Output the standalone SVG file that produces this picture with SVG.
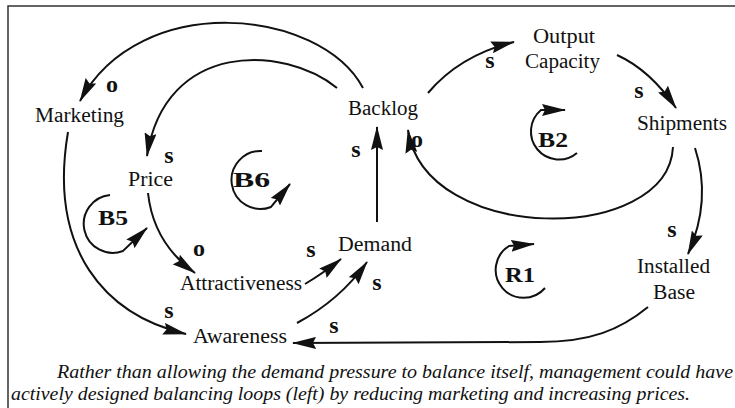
<svg xmlns="http://www.w3.org/2000/svg" width="735" height="408" viewBox="0 0 735 408">
<style>
.lbl{font-family:"Liberation Serif","Times New Roman",Times,serif;font-size:20px;fill:#111}
.pol{font-family:"Liberation Serif","Times New Roman",Times,serif;font-size:24px;font-weight:bold;fill:#111;text-anchor:middle}
.loop{font-family:"Liberation Serif","Times New Roman",Times,serif;font-size:22px;font-weight:bold;fill:#111}
.cap{font-family:"Liberation Serif","Times New Roman",Times,serif;font-size:18px;font-style:italic;fill:#111}
.c{fill:none;stroke:#111;stroke-width:2;marker-end:url(#ah)}
.frame{fill:none;stroke:#333;stroke-width:1.5}
</style>
<defs>
<marker id="ah" viewBox="0 0 24 12" refX="23" refY="6" markerWidth="24" markerHeight="12" markerUnits="userSpaceOnUse" orient="auto">
<path d="M0,0 L24,6 L0,12 L3,6 z" fill="#111"/>
</marker>
</defs>
<rect width="735" height="408" fill="#fff"/>
<path class="frame" d="M8,408 L8,6 L735,6"/>

<g id="connectors">
<path class="c" d="M363,88 C320,8 140,-10 80,101"/>
<path class="c" d="M337,88 C285,45 165,40 147,156"/>
<path class="c" d="M68,132 C48,250 105,315 186,334"/>
<path class="c" d="M148,193 C152,230 170,255 195,273"/>
<path class="c" d="M305,284 Q322,274 341,259"/>
<path class="c" d="M297,323 Q340,300 367,262"/>
<path class="c" d="M377,222 L377,127"/>
<path class="c" d="M673,147 C668,245 425,245 408,130"/>
<path class="c" d="M428,93 Q460,55 514,42"/>
<path class="c" d="M617,55 Q650,70 676,108"/>
<path class="c" d="M695,148 Q712,200 688,254"/>
<path class="c" d="M648,307 C620,330 590,342 540,342 L293,343"/>
</g>

<g id="loop-B6">
<path class="c" d="M262,151 A29 29 0 1 0 271,207 L290,184"/>
<text class="loop" x="233" y="187" textLength="37" lengthAdjust="spacingAndGlyphs">B6</text>
</g>
<g id="loop-B5">
<path class="c" d="M110,195 A29 29 0 1 0 123,251 L147,228"/>
<text class="loop" x="98" y="225" textLength="30" lengthAdjust="spacingAndGlyphs">B5</text>
</g>
<g id="loop-B2">
<path class="c" d="M577,153 A28 28 0 1 1 541,110 L565,110"/>
<text class="loop" x="538" y="147" textLength="30" lengthAdjust="spacingAndGlyphs">B2</text>
</g>
<g id="loop-R1">
<path class="c" d="M545,288 A28 28 0 1 1 509,246 L534,244"/>
<text class="loop" x="505" y="282" textLength="30" lengthAdjust="spacingAndGlyphs">R1</text>
</g>

<g id="node-marketing"><text class="lbl" x="35" y="122" textLength="89" lengthAdjust="spacingAndGlyphs">Marketing</text></g>
<g id="node-backlog"><text class="lbl" x="348" y="115" textLength="70" lengthAdjust="spacingAndGlyphs">Backlog</text></g>
<g id="node-output-capacity">
<text class="lbl" x="533" y="43" textLength="62" lengthAdjust="spacingAndGlyphs">Output</text>
<text class="lbl" x="525" y="68" textLength="75" lengthAdjust="spacingAndGlyphs">Capacity</text>
</g>
<g id="node-shipments"><text class="lbl" x="637" y="130" textLength="90" lengthAdjust="spacingAndGlyphs">Shipments</text></g>
<g id="node-price"><text class="lbl" x="128" y="186" textLength="45" lengthAdjust="spacingAndGlyphs">Price</text></g>
<g id="node-demand"><text class="lbl" x="338" y="251" textLength="74" lengthAdjust="spacingAndGlyphs">Demand</text></g>
<g id="node-attractiveness"><text class="lbl" x="180" y="290" textLength="122" lengthAdjust="spacingAndGlyphs">Attractiveness</text></g>
<g id="node-awareness"><text class="lbl" x="193" y="343" textLength="94" lengthAdjust="spacingAndGlyphs">Awareness</text></g>
<g id="node-installed-base">
<text class="lbl" x="637" y="273" textLength="73" lengthAdjust="spacingAndGlyphs">Installed</text>
<text class="lbl" x="653" y="299" textLength="42" lengthAdjust="spacingAndGlyphs">Base</text>
</g>

<g id="polarities">
<text class="pol" x="112" y="92">o</text>
<text class="pol" x="169" y="163">s</text>
<text class="pol" x="356" y="157">s</text>
<text class="pol" x="417" y="147">o</text>
<text class="pol" x="490" y="68">s</text>
<text class="pol" x="639" y="98">s</text>
<text class="pol" x="672" y="237">s</text>
<text class="pol" x="199" y="256">o</text>
<text class="pol" x="311" y="257">s</text>
<text class="pol" x="377" y="290">s</text>
<text class="pol" x="169" y="318">s</text>
<text class="pol" x="334" y="333">s</text>
</g>

<g id="caption">
<text class="cap" x="57" y="378" textLength="676" lengthAdjust="spacingAndGlyphs">Rather than allowing the demand pressure to balance itself, management could have</text>
<text class="cap" x="11" y="400" textLength="679" lengthAdjust="spacingAndGlyphs">actively designed balancing loops (left) by reducing marketing and increasing prices.</text>
</g>
</svg>
